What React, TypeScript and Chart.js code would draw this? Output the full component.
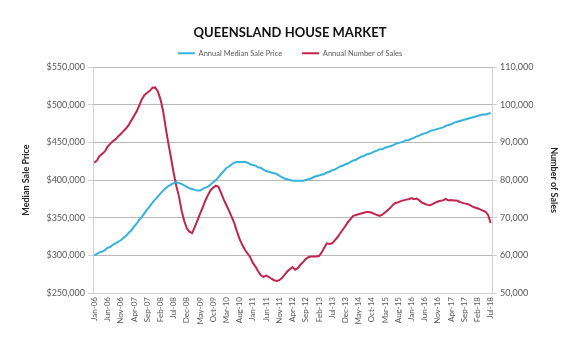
import React, { useEffect, useRef } from "react";
import { Chart, registerables } from "chart.js";

Chart.register(...registerables);

const MONTHS = ["Jan", "Feb", "Mar", "Apr", "May", "Jun", "Jul", "Aug", "Sep", "Oct", "Nov", "Dec"];
const START_YEAR = 2006;
const N_MONTHS = 151; // Jan-06 .. Jul-18

const categories: string[] = [];
for (let i = 0; i < N_MONTHS; i++) {
  const y = START_YEAR + Math.floor(i / 12);
  categories.push(MONTHS[i % 12] + "-" + String(y).slice(2));
}

// Annual Median Sale Price ($ thousands)
const medianPriceK = [
  300, 302, 304, 305, 307, 310, 311, 314, 316, 318,
  320, 323, 326, 330, 333, 338, 342, 347, 351, 356,
  361, 365, 370, 374, 378, 382, 386, 389, 392, 394,
  396, 397, 396, 395, 393, 391, 389, 388, 387, 386,
  386, 388, 390, 391, 394, 397, 400, 404, 408, 412,
  416, 418, 421, 423, 424, 424, 424, 424, 423, 421,
  420, 419, 417, 416, 414, 412, 411, 410, 409, 408,
  406, 404, 402, 401, 400, 399, 399, 399, 399, 399,
  400, 401, 402, 404, 405, 406, 407, 408, 410, 411,
  413, 414, 416, 418, 419, 421, 422, 424, 426, 427,
  429, 431, 432, 434, 435, 436, 438, 439, 441, 441,
  443, 444, 445, 446, 448, 449, 450, 451, 453, 453,
  455, 456, 458, 459, 461, 462, 463, 465, 466, 467,
  468, 469, 470, 472, 473, 474, 476, 477, 478, 479,
  480, 481, 482, 483, 484, 485, 486, 487, 487, 488,
  489,
];

// Annual Number of Sales (thousands)
const salesK = [
  84.6, 85.2, 86.4, 87.0, 87.6, 88.8, 89.6, 90.3, 90.8, 91.6,
  92.2, 93.0, 93.7, 94.6, 95.8, 97.0, 98.2, 99.8, 101.5, 102.6,
  103.2, 103.7, 104.5, 104.6, 103.6, 101.5, 98.5, 94.0, 89.8, 86.0,
  82.0, 78.5, 75.8, 72.0, 69.2, 67.2, 66.3, 65.9, 67.5, 69.2,
  71.0, 72.7, 74.5, 76.0, 77.3, 78.0, 78.5, 78.2, 76.5, 74.8,
  73.3, 71.8, 70.2, 68.5, 66.3, 64.3, 62.8, 61.5, 60.5, 59.5,
  58.0, 57.0, 55.8, 54.7, 54.3, 54.6, 54.3, 53.8, 53.4, 53.2,
  53.4, 54.0, 54.8, 55.7, 56.3, 56.9, 56.2, 56.6, 57.5, 58.2,
  59.0, 59.5, 59.7, 59.7, 59.7, 59.8, 60.7, 62.0, 63.2, 63.0,
  63.2, 64.0, 64.8, 65.8, 66.8, 67.8, 68.8, 69.7, 70.5, 70.7,
  70.9, 71.1, 71.3, 71.5, 71.5, 71.3, 71.0, 70.7, 70.5, 70.8,
  71.4, 72.0, 72.6, 73.4, 73.9, 74.1, 74.4, 74.6, 74.8, 74.9,
  75.2, 74.9, 75.1, 74.6, 74.0, 73.7, 73.4, 73.3, 73.6, 74.0,
  74.3, 74.5, 74.6, 75.0, 74.6, 74.7, 74.6, 74.6, 74.3, 74.0,
  73.8, 73.7, 73.4, 73.0, 72.7, 72.5, 72.2, 71.9, 71.6, 70.8,
  68.6,
];

const priceTicks = [250000, 550000, 50000]; // min, max, step
const salesTicks = [50000, 110000, 10000];

const BLUE = "#35b3da";
const RED = "#c1254e";
const FONT = "Lato";

export default function App() {
  const ref = useRef<HTMLCanvasElement | null>(null);

  useEffect(() => {
    if (!ref.current) return;
    const chart = new Chart(ref.current, {
      type: "line",
      data: {
        labels: categories,
        datasets: [
          {
            label: "Annual Median Sale Price",
            data: medianPriceK.map((v) => v * 1000),
            borderColor: BLUE,
            backgroundColor: BLUE,
            borderWidth: 2,
            pointRadius: 0,
            tension: 0,
            yAxisID: "y",
          },
          {
            label: "Annual Number of Sales",
            data: salesK.map((v) => v * 1000),
            borderColor: RED,
            backgroundColor: RED,
            borderWidth: 2,
            pointRadius: 0,
            tension: 0,
            yAxisID: "y1",
          },
        ],
      },
      options: {
        responsive: false,
        animation: false,
        layout: { padding: 0 },
        plugins: {
          title: {
            display: true,
            text: "QUEENSLAND HOUSE MARKET",
            color: "#111111",
            font: { family: FONT, size: 13, weight: "bold" },
            padding: { top: 25, bottom: -11 },
          },
          legend: {
            display: true,
            labels: {
              usePointStyle: true,
              pointStyle: "line",
              pointStyleWidth: 17,
              color: "#595959",
              font: { family: FONT, size: 7.5 },
              padding: 20,
            },
          },
          tooltip: { enabled: false },
        },
        scales: {
          x: {
            type: "category",
            offset: true,
            afterFit: (s: any) => {
              s.height = 59;
            },
            grid: { display: true, drawOnChartArea: false, drawTicks: false },
            border: { display: true, color: "#d0d0d0" },
            ticks: {
              autoSkip: false,
              minRotation: 90,
              maxRotation: 90,
              padding: 4,
              color: "#595959",
              font: { family: FONT, size: 8 },
              callback: (_v: any, i: number) => (i % 5 === 0 ? categories[i] : ""),
            },
          },
          y: {
            position: "left",
            min: priceTicks[0],
            max: priceTicks[1],
            afterFit: (s: any) => {
              s.width = 93;
            },
            grid: { color: "#b8b8b8", tickLength: 5, tickColor: "#d0d0d0" },
            border: { display: true, color: "#d0d0d0" },
            ticks: {
              stepSize: priceTicks[2],
              padding: 3,
              color: "#595959",
              font: { family: FONT, size: 9 },
              callback: (v: any) => "$" + Number(v).toLocaleString("en-US"),
            },
            title: {
              display: true,
              text: "Median Sale Price",
              color: "#262626",
              font: { family: FONT, size: 9, weight: "bold" },
              padding: { top: 21, bottom: 0 },
            },
          },
          y1: {
            position: "right",
            min: salesTicks[0],
            max: salesTicks[1],
            afterFit: (s: any) => {
              s.width = 88;
            },
            grid: { drawOnChartArea: false, tickLength: 5, tickColor: "#d0d0d0" },
            border: { display: true, color: "#d0d0d0" },
            ticks: {
              stepSize: salesTicks[2],
              padding: 3,
              color: "#595959",
              font: { family: FONT, size: 9 },
              callback: (v: any) => Number(v).toLocaleString("en-US"),
            },
            title: {
              display: true,
              text: "Number of Sales",
              color: "#262626",
              font: { family: FONT, size: 9, weight: "bold" },
              padding: { top: 21, bottom: 0 },
            },
          },
        },
      },
    });
    return () => chart.destroy();
  }, []);

  return (
    <div style={{ position: "fixed", left: 0, top: 0, width: 580, height: 352, background: "#ffffff" }}>
      <canvas ref={ref} width={580} height={352} style={{ width: 580, height: 352 }} />
    </div>
  );
}
